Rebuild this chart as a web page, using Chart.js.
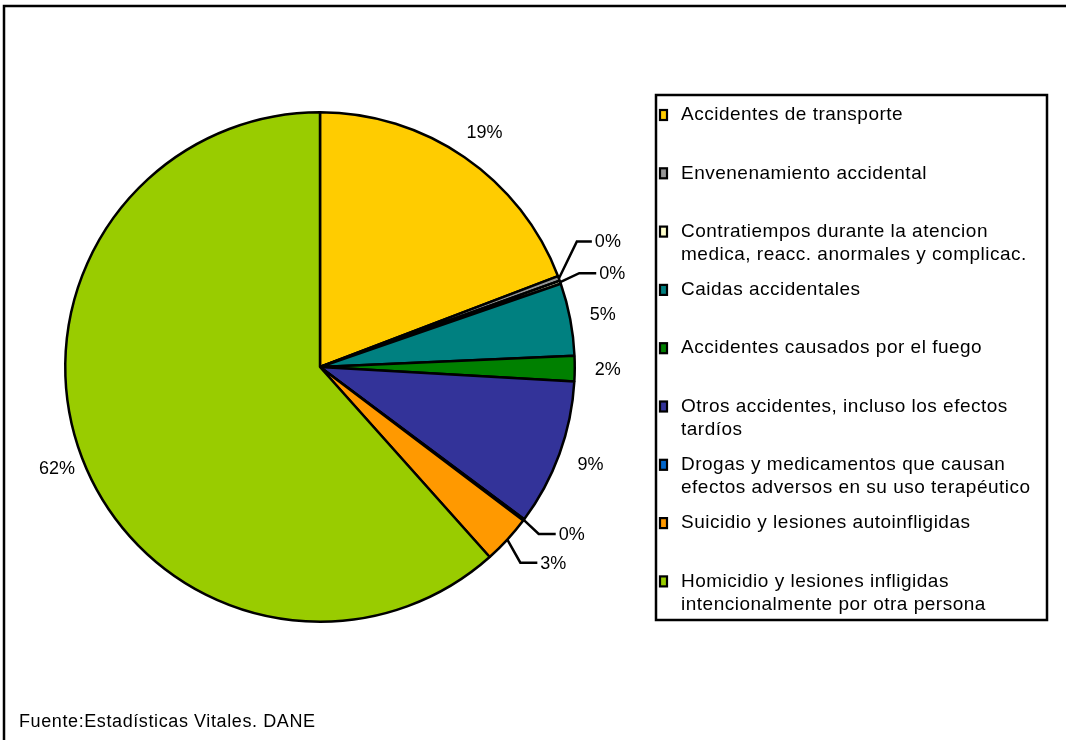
<!DOCTYPE html>
<html>
<head>
<meta charset="utf-8">
<script src="https://cdn.jsdelivr.net/npm/chart.js@4/dist/chart.umd.min.js"></script>
<style>
    html, body { margin: 0; padding: 0; background: #fff; }
    #wrap { width: 1066px; height: 740px; position: relative; }
</style>
</head>
<body>
<div id="wrap"><canvas id="pie"></canvas></div>
<script>
// categorias (multi-linea como en la leyenda original)
const categories = [
    ['Accidentes de transporte'],
    ['Envenenamiento accidental'],
    ['Contratiempos durante la atencion', 'medica, reacc. anormales y complicac.'],
    ['Caidas accidentales'],
    ['Accidentes causados por el fuego'],
    ['Otros accidentes, incluso los efectos', 'tardíos'],
    ['Drogas y medicamentos que causan', 'efectos adversos en su uso terapéutico'],
    ['Suicidio y lesiones autoinfligidas'],
    ['Homicidio y lesiones infligidas', 'intencionalmente por otra persona']
];
// porcentaje de muertes por causa externa
const values = [19.2, 0.3, 0.2, 4.6, 1.6, 9.3, 0.1, 3.1, 61.6];
const footnote = 'Fuente:Estadísticas Vitales. DANE';

const colors = ['#FFCC00', '#969696', '#FFFFCC', '#008080', '#008000', '#333399', '#0066CC', '#FF9900', '#99CC00'];

// slices with a leader line: elbow offset from the slice edge, horizontal length
const leaders = {
    1: {dx: 18, dy: -37, len: 15},
    2: {dx: 19, dy: -9, len: 17},
    6: {dx: 15, dy: 14, len: 17},
    7: {dx: 13, dy: 23, len: 17}
};

const FONT = '18px "Liberation Sans", Arial, sans-serif';
const LEGEND_FONT = '19px "Liberation Sans", Arial, sans-serif';

const framePlugin = {
    id: 'frame',
    beforeDraw(chart) {
        const ctx = chart.ctx;
        ctx.save();
        ctx.fillStyle = '#fff';
        ctx.fillRect(0, 0, chart.width, chart.height);
        ctx.strokeStyle = '#000';
        ctx.lineWidth = 2.5;
        ctx.beginPath();
        ctx.moveTo(4, chart.height + 5);
        ctx.lineTo(4, 6);
        ctx.lineTo(chart.width + 5, 6);
        ctx.stroke();
        ctx.restore();
    }
};

const labelPlugin = {
    id: 'pctLabels',
    afterDatasetsDraw(chart) {
        const ctx = chart.ctx;
        const meta = chart.getDatasetMeta(0);
        const total = values.reduce((a, b) => a + b, 0);
        ctx.save();
        ctx.font = FONT;
        ctx.fillStyle = '#000';
        ctx.strokeStyle = '#000';
        ctx.lineWidth = 2.5;
        ctx.textBaseline = 'middle';
        meta.data.forEach((arc, i) => {
            const mid = (arc.startAngle + arc.endAngle) / 2;
            const txt = Math.round(values[i] / total * 100) + '%';
            const ld = leaders[i];
            if (ld) {
                const ex = arc.x + Math.cos(mid) * arc.outerRadius;
                const ey = arc.y + Math.sin(mid) * arc.outerRadius;
                const bx = ex + ld.dx, by = ey + ld.dy;
                ctx.beginPath();
                ctx.moveTo(ex, ey);
                ctx.lineTo(bx, by);
                ctx.lineTo(bx + ld.len, by);
                ctx.stroke();
                ctx.textAlign = 'left';
                ctx.fillText(txt, bx + ld.len + 3, by + 1);
            } else {
                const r = arc.outerRadius + 30;
                ctx.textAlign = 'center';
                ctx.fillText(txt, arc.x + Math.cos(mid) * r + 3, arc.y + Math.sin(mid) * r + 1);
            }
        });
        ctx.restore();
    }
};

const legendPlugin = {
    id: 'boxLegend',
    afterDraw(chart) {
        const ctx = chart.ctx;
        ctx.save();
        // caja de la leyenda
        ctx.strokeStyle = '#000';
        ctx.lineWidth = 2.5;
        ctx.strokeRect(656, 95, 391, 525);

        ctx.font = LEGEND_FONT;
        ctx.letterSpacing = '0.5px';
        ctx.textBaseline = 'middle';
        ctx.textAlign = 'left';
        categories.forEach((lines, i) => {
            const y = 115 + i * 58.3;
            ctx.fillStyle = colors[i];
            ctx.fillRect(660, y - 5, 7, 10);
            ctx.lineWidth = 2.2;
            ctx.strokeStyle = '#000';
            ctx.strokeRect(660, y - 5, 7, 10);
            ctx.fillStyle = '#000';
            lines.forEach((ln, j) => {
                ctx.fillText(ln, 681, y + j * 23);
            });
        });

        ctx.font = FONT;
        ctx.letterSpacing = '0.6px';
        ctx.fillText(footnote, 19, 722);
        ctx.restore();
    }
};

new Chart(document.getElementById('pie'), {
    type: 'pie',
    data: {
        labels: categories,
        datasets: [{
            data: values,
            backgroundColor: colors,
            borderColor: '#000',
            borderWidth: 2.5
        }]
    },
    options: {
        responsive: true,
        maintainAspectRatio: false,
        animation: false,
        devicePixelRatio: 1,
        layout: {
            padding: {left: 64, top: 111, right: 490, bottom: 117}
        },
        plugins: {
            legend: {display: false},
            tooltip: {enabled: false}
        }
    },
    plugins: [framePlugin, labelPlugin, legendPlugin]
});
</script>
</body>
</html>
